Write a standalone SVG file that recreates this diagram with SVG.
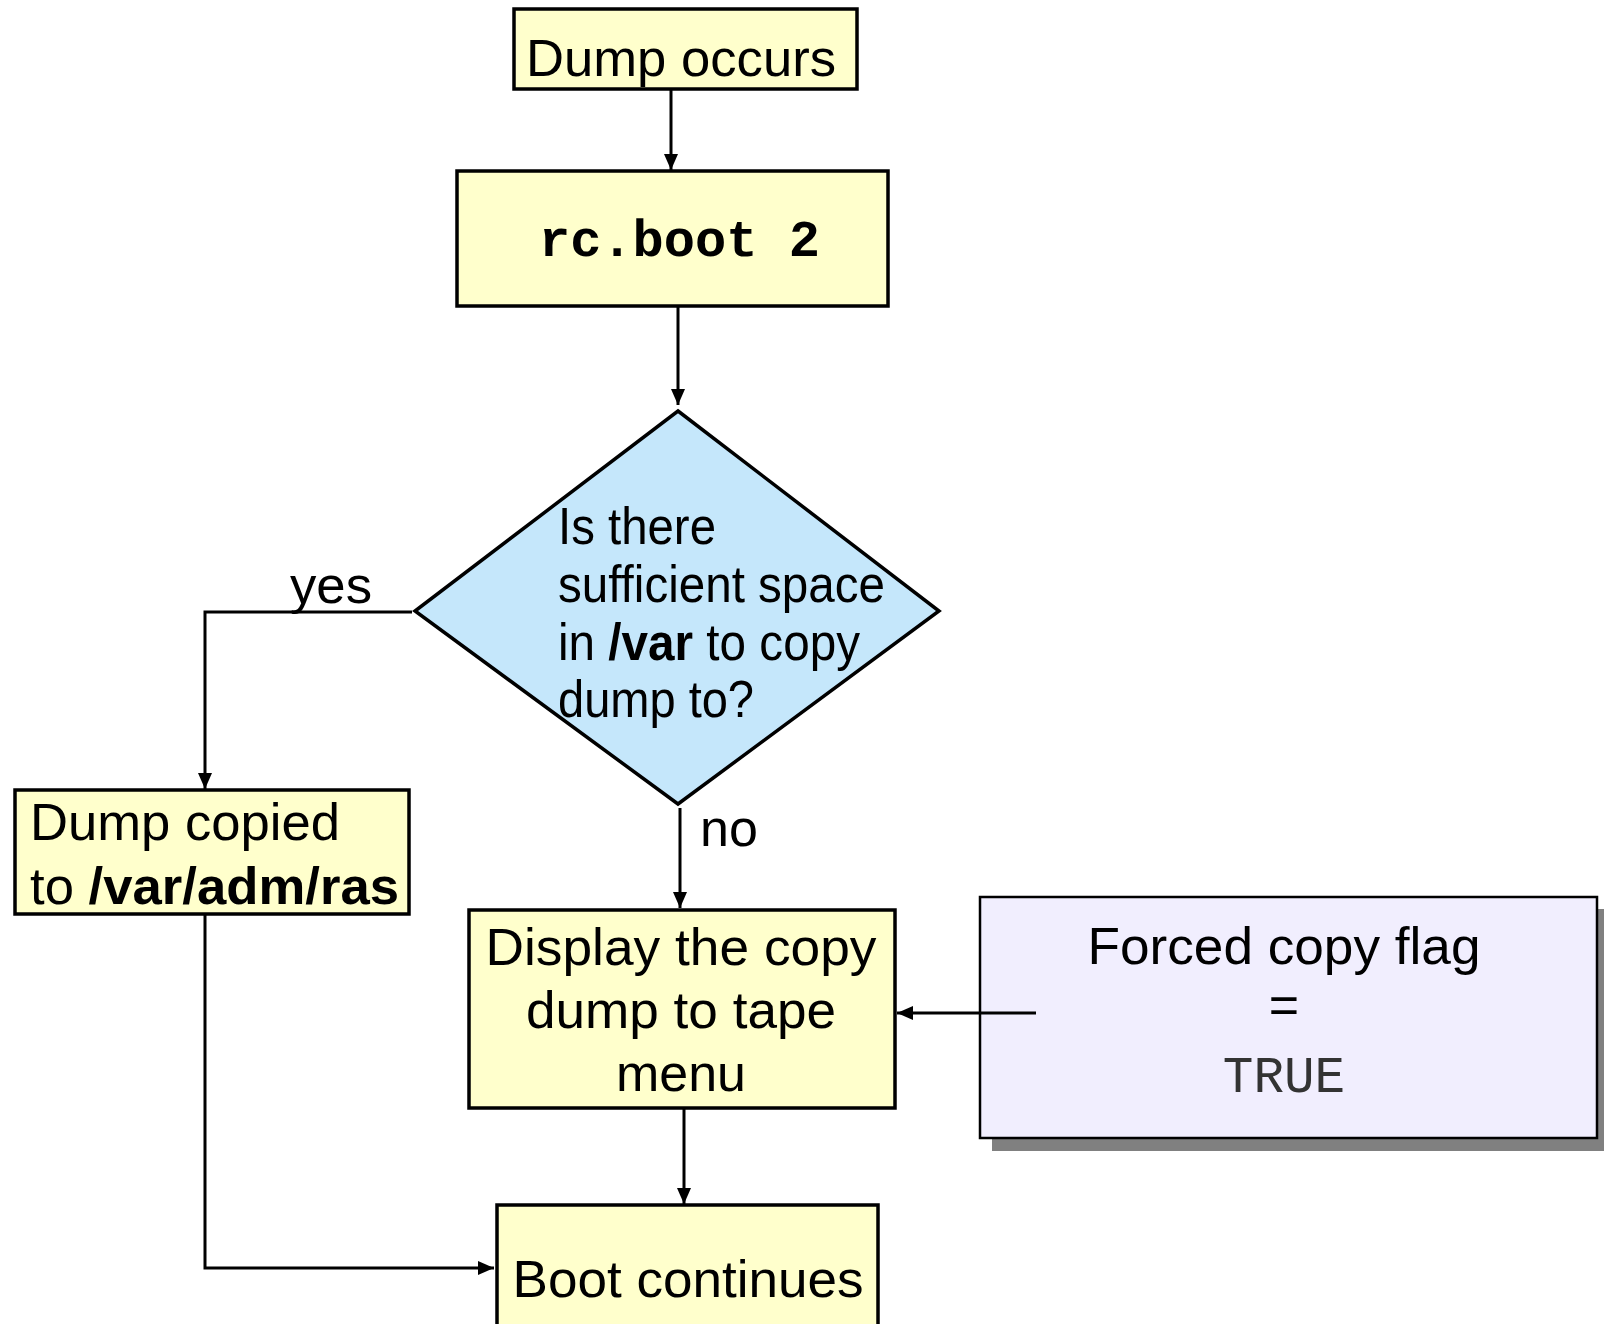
<svg xmlns="http://www.w3.org/2000/svg" width="1604" height="1324" viewBox="0 0 1604 1324">
<style>
.box{fill:#FFFFCC;stroke:#000;stroke-width:3.5}
.t{font-family:"Liberation Sans",Arial,sans-serif;font-size:52px;fill:#000}
.mono{font-family:"Liberation Mono","Courier New",monospace}
.ln{fill:none;stroke:#000;stroke-width:3}
</style>
<defs>
<marker id="ah" markerWidth="16" markerHeight="14" refX="16" refY="7" orient="auto" markerUnits="userSpaceOnUse">
<path d="M0,0 L16,7 L0,14 Z" fill="#000"/>
</marker>
</defs>
<rect width="1604" height="1324" fill="#fff"/>
<g id="dump-occurs">
<rect class="box" x="514" y="9" width="343" height="80"/>
<text class="t" x="526" y="76" textLength="310" lengthAdjust="spacingAndGlyphs">Dump occurs</text>
</g>
<g id="rc-boot">
<rect class="box" x="457" y="171" width="431" height="135"/>
<text class="mono" x="539" y="256" font-size="52" font-weight="bold">rc.boot 2</text>
</g>
<g id="decision">
<polygon points="678,411 939,611 678,804 415,611" fill="#C5E7FB" stroke="#000" stroke-width="3.5"/>
<text class="t" font-size="47" x="558" y="544" textLength="158" lengthAdjust="spacingAndGlyphs">Is there</text>
<text class="t" font-size="47" x="558" y="602" textLength="327" lengthAdjust="spacingAndGlyphs">sufficient space</text>
<text class="t" font-size="47" x="558" y="660" textLength="302" lengthAdjust="spacingAndGlyphs">in <tspan font-weight="bold">/var</tspan> to copy</text>
<text class="t" font-size="47" x="558" y="717" textLength="196" lengthAdjust="spacingAndGlyphs">dump to?</text>
</g>
<g id="dump-copied">
<rect class="box" x="15" y="790" width="394" height="124"/>
<text class="t" x="30" y="840" textLength="310" lengthAdjust="spacingAndGlyphs">Dump copied</text>
<text class="t" x="30" y="904" textLength="369" lengthAdjust="spacingAndGlyphs">to <tspan font-weight="bold">/var/adm/ras</tspan></text>
</g>
<g id="display-menu">
<rect class="box" x="469" y="910" width="426" height="198"/>
<text class="t" x="681" y="965" text-anchor="middle" textLength="391" lengthAdjust="spacingAndGlyphs">Display the copy</text>
<text class="t" x="681" y="1028" text-anchor="middle" textLength="310" lengthAdjust="spacingAndGlyphs">dump to tape</text>
<text class="t" x="681" y="1091" text-anchor="middle" textLength="130" lengthAdjust="spacingAndGlyphs">menu</text>
</g>
<g id="forced-flag">
<rect x="992" y="909" width="617" height="242" fill="#808080"/>
<rect x="980" y="897" width="617" height="241" fill="#F1EEFE" stroke="#000" stroke-width="2.5"/>
<text class="t" x="1284" y="964" text-anchor="middle" font-size="53" textLength="393" lengthAdjust="spacingAndGlyphs">Forced copy flag</text>
<text class="t" x="1284" y="1023" text-anchor="middle" font-size="53">=</text>
<text class="mono" x="1284" y="1092" text-anchor="middle" font-size="51" fill="#333">TRUE</text>
</g>
<g id="boot-continues">
<rect class="box" x="497" y="1205" width="381" height="140"/>
<text class="t" x="688" y="1297" text-anchor="middle" textLength="351" lengthAdjust="spacingAndGlyphs">Boot continues</text>
</g>
<g id="connectors">
<line class="ln" x1="671" y1="89" x2="671" y2="170" marker-end="url(#ah)"/>
<line class="ln" x1="678" y1="306" x2="678" y2="405" marker-end="url(#ah)"/>
<polyline class="ln" points="412,612 205,612 205,789" marker-end="url(#ah)"/>
<line class="ln" x1="680" y1="808" x2="680" y2="908" marker-end="url(#ah)"/>
<line class="ln" x1="684" y1="1109" x2="684" y2="1204" marker-end="url(#ah)"/>
<polyline class="ln" points="205,914 205,1268 494,1268" marker-end="url(#ah)"/>
<line class="ln" x1="1036" y1="1013" x2="897" y2="1013" marker-end="url(#ah)"/>
<text class="t" x="290" y="603" textLength="82" lengthAdjust="spacingAndGlyphs">yes</text>
<text class="t" x="700" y="846">no</text>
</g>
</svg>
